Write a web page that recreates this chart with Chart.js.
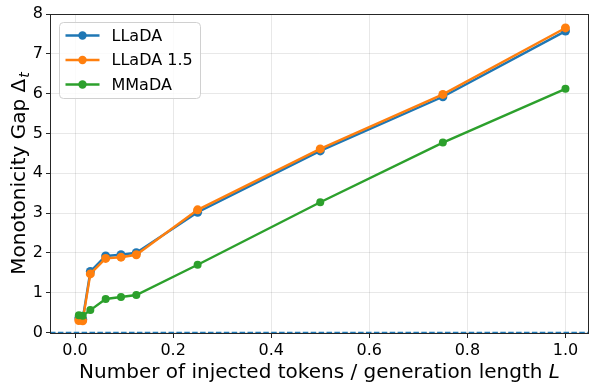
<!DOCTYPE html>
<html>
<head>
<meta charset="utf-8">
<script src="https://cdn.jsdelivr.net/npm/chart.js@4"></script>
<style>
  html, body { margin: 0; padding: 0; background: #fff; }
  #wrap { width: 598px; height: 392px; position: relative; }
</style>
</head>
<body>
<div id="wrap"><canvas id="c" width="598" height="392"></canvas></div>
<script>
// ---- data ----
const injectedRatio = [1/128, 2/128, 4/128, 8/128, 12/128, 16/128, 32/128, 64/128, 96/128, 1];
const seriesNames = ["LLaDA", "LLaDA 1.5", "MMaDA"];
const lladaGap   = [0.36, 0.33, 1.53, 1.92, 1.95, 2.00, 3.02, 4.56, 5.92, 7.57];
const llada15Gap = [0.30, 0.29, 1.47, 1.86, 1.89, 1.95, 3.08, 4.61, 5.98, 7.65];
const mmadaGap   = [0.43, 0.42, 0.56, 0.84, 0.89, 0.94, 1.70, 3.27, 4.77, 6.12];
const xTicks = [0, 0.2, 0.4, 0.6, 0.8, 1.0];
const yTicks = [0, 1, 2, 3, 4, 5, 6, 7, 8];
const zeroLineValue = 0;
const xTitle = "Number of injected tokens / generation length ";
const xTitleItalic = "L";
const yTitle = "Monotonicity Gap \u0394";
const yTitleSub = "t";

const colors = ["#1f77b4", "#ff7f0e", "#2ca02c"];
const FONT = "'DejaVu Sans', sans-serif";

function pts(arr) { return arr.map((v, i) => ({ x: injectedRatio[i], y: v })); }

const seriesData = [lladaGap, llada15Gap, mmadaGap];
const radii = [4.5, 4.5, 4.0];

const datasets = seriesData.map((d, i) => ({
  label: seriesNames[i],
  data: pts(d),
  borderColor: colors[i],
  backgroundColor: colors[i],
  borderWidth: 2.4,
  pointRadius: radii[i],
  pointHoverRadius: radii[i],
  pointBorderWidth: 0,
  pointBackgroundColor: colors[i],
  tension: 0,
  order: 3 - i,
  clip: false
}));

const decor = {
  id: 'decor',
  beforeDatasetsDraw(chart) {
    const ctx = chart.ctx, a = chart.chartArea;
    const y = chart.scales.y.getPixelForValue(zeroLineValue);
    ctx.save();
    ctx.strokeStyle = colors[0];
    ctx.lineWidth = 1.5;
    ctx.setLineDash([5.5, 2.4]);
    ctx.beginPath();
    ctx.moveTo(a.left, y);
    ctx.lineTo(a.right, y);
    ctx.stroke();
    ctx.restore();
  },
  afterDatasetsDraw(chart) {
    const ctx = chart.ctx, a = chart.chartArea;
    ctx.save();
    // spines
    ctx.strokeStyle = "#262626";
    ctx.lineWidth = 1;
    ctx.strokeRect(a.left + 0.5, a.top + 0.5, a.right - a.left - 1, a.bottom - a.top - 1);

    // legend
    const bx = a.left + 9.5, by = a.top + 8.5, bw = 141, bh = 76, r = 4;
    ctx.beginPath();
    ctx.moveTo(bx + r, by);
    ctx.lineTo(bx + bw - r, by);
    ctx.arcTo(bx + bw, by, bx + bw, by + r, r);
    ctx.lineTo(bx + bw, by + bh - r);
    ctx.arcTo(bx + bw, by + bh, bx + bw - r, by + bh, r);
    ctx.lineTo(bx + r, by + bh);
    ctx.arcTo(bx, by + bh, bx, by + bh - r, r);
    ctx.lineTo(bx, by + r);
    ctx.arcTo(bx, by, bx + r, by, r);
    ctx.closePath();
    ctx.fillStyle = "rgba(255,255,255,0.8)";
    ctx.fill();
    ctx.strokeStyle = "#d0d0d0";
    ctx.lineWidth = 1;
    ctx.stroke();

    ctx.font = "16px " + FONT;
    ctx.textBaseline = "middle";
    ctx.textAlign = "left";
    seriesNames.forEach((name, i) => {
      const yy = by + 13 + i * 24.5;
      ctx.strokeStyle = colors[i];
      ctx.lineWidth = 2.4;
      ctx.beginPath();
      ctx.moveTo(bx + 6, yy);
      ctx.lineTo(bx + 40, yy);
      ctx.stroke();
      ctx.fillStyle = colors[i];
      ctx.beginPath();
      ctx.arc(bx + 23, yy, 4.2, 0, Math.PI * 2);
      ctx.fill();
      ctx.fillStyle = "#000";
      ctx.fillText(name, bx + 52, yy + 1);
    });
    ctx.restore();
  },
  afterDraw(chart) {
    const ctx = chart.ctx, a = chart.chartArea;
    ctx.save();
    ctx.fillStyle = "#000";
    ctx.textBaseline = "alphabetic";
    ctx.textAlign = "left";
    // x title
    ctx.font = "20px " + FONT;
    const w1 = ctx.measureText(xTitle).width;
    ctx.font = "italic 20px " + FONT;
    const w2 = ctx.measureText(xTitleItalic).width;
    const cx = (a.left + a.right) / 2;
    let sx = cx - (w1 + w2) / 2;
    ctx.font = "20px " + FONT;
    ctx.fillText(xTitle, sx, 378);
    ctx.font = "italic 20px " + FONT;
    ctx.fillText(xTitleItalic, sx + w1, 378);

    // y title
    ctx.translate(25, (a.top + a.bottom) / 2);
    ctx.rotate(-Math.PI / 2);
    ctx.font = "20px " + FONT;
    const v1 = ctx.measureText(yTitle).width;
    ctx.font = "italic 14px " + FONT;
    const v2 = ctx.measureText(yTitleSub).width;
    const s = -(v1 + v2) / 2;
    ctx.font = "20px " + FONT;
    ctx.fillText(yTitle, s, 0);
    ctx.font = "italic 14px " + FONT;
    ctx.fillText(yTitleSub, s + v1 + 1, 4);
    ctx.restore();
  }
};

new Chart(document.getElementById('c'), {
  type: 'line',
  data: { datasets },
  options: {
    responsive: false,
    animation: false,
    events: [],
    layout: { padding: { top: 14, right: 9, left: 0, bottom: 0 } },
    plugins: { legend: { display: false }, tooltip: { enabled: false } },
    scales: {
      x: {
        type: 'linear',
        min: -0.051,
        max: 1.048,
        afterBuildTicks(scale) { scale.ticks = xTicks.map(v => ({ value: v })); },
        afterFit(scale) { scale.height = 58; },
        grid: { color: "rgba(0,0,0,0.09)", lineWidth: 1, tickColor: "#262626", tickLength: 4, tickWidth: 1 },
        border: { display: false },
        ticks: {
          color: "#000",
          font: { family: FONT, size: 16 },
          padding: 3,
          maxRotation: 0,
          callback: v => Number(v).toFixed(1)
        }
      },
      y: {
        type: 'linear',
        min: -0.04,
        max: 8,
        afterBuildTicks(scale) { scale.ticks = yTicks.map(v => ({ value: v })); },
        afterFit(scale) { scale.width = 50; },
        grid: { color: "rgba(0,0,0,0.09)", lineWidth: 1, tickColor: "#262626", tickLength: 4, tickWidth: 1 },
        border: { display: false },
        ticks: {
          color: "#000",
          font: { family: FONT, size: 16 },
          padding: 3,
          callback: v => String(Math.round(v))
        }
      }
    }
  },
  plugins: [decor]
});
</script>
</body>
</html>
